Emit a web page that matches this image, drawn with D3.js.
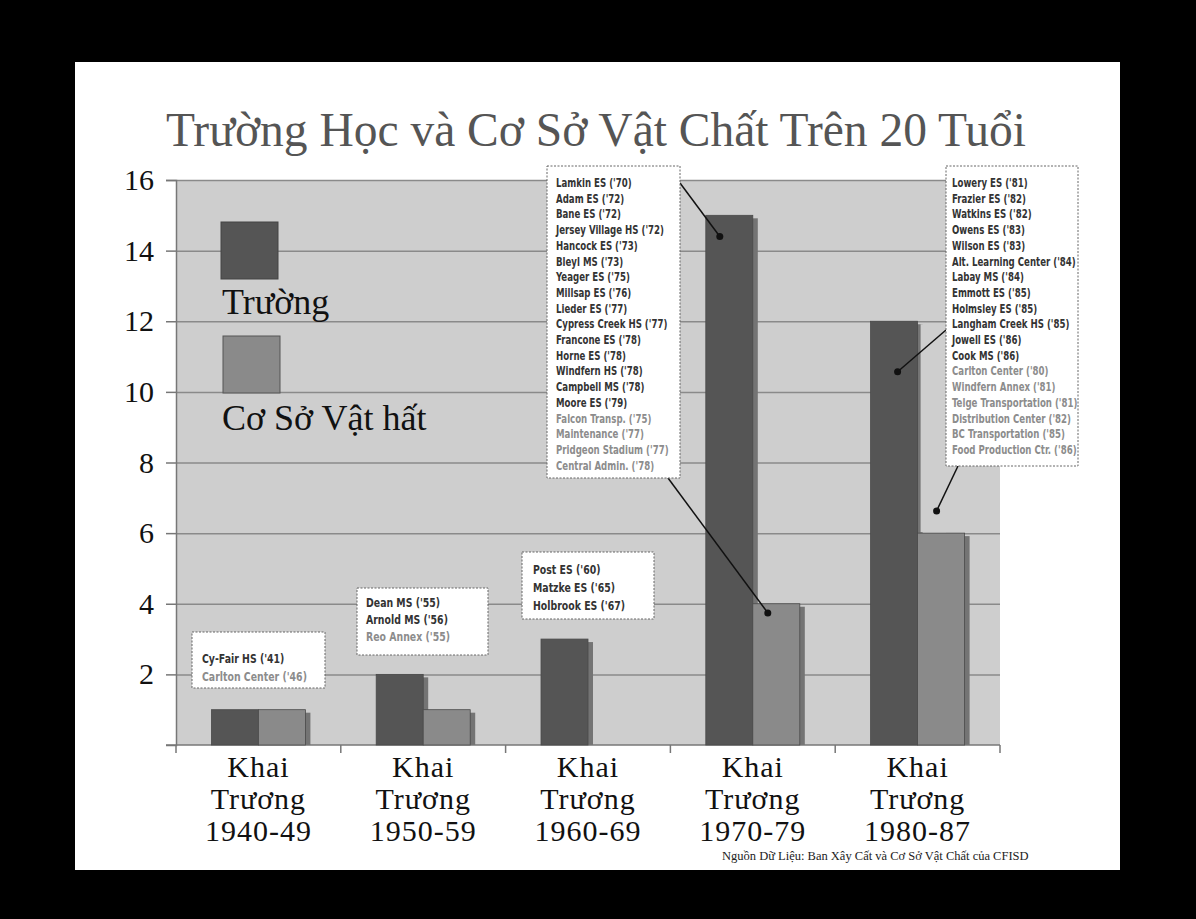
<!DOCTYPE html>
<html><head><meta charset="utf-8">
<script src="https://cdn.jsdelivr.net/npm/d3@7"></script>
<style>html,body{margin:0;padding:0;background:#000;}svg{display:block;}</style>
</head><body>
<script>
// ---------- data ----------
const categories = ["1940-49", "1950-59", "1960-69", "1970-79", "1980-87"];
const schools    = [1, 2, 3, 15, 12];
const facilities = [1, 1, 0, 4, 6];
const yTicks = [2, 4, 6, 8, 10, 12, 14, 16];
const seriesNames = ["Trường", "Cơ Sở Vật hất"];
const xLabelLines = ["Khai", "Trương"];
const titleText = "Trường Học và Cơ Sở Vật Chất Trên 20 Tuổi";
const sourceText = "Nguồn Dữ Liệu: Ban Xây Cất và Cơ Sở Vật Chất của CFISD";
// note lines: [text, kind] kind 0 = school, 1 = facility
const notes1940 = [["Cy-Fair HS ('41)",0],["Carlton Center ('46)",1]];
const notes1950 = [["Dean MS ('55)",0],["Arnold MS ('56)",0],["Reo Annex ('55)",1]];
const notes1960 = [["Post ES ('60)",0],["Matzke ES ('65)",0],["Holbrook ES ('67)",0]];
const notes1970 = [["Lamkin ES ('70)",0],["Adam ES ('72)",0],["Bane ES ('72)",0],["Jersey Village HS ('72)",0],["Hancock ES ('73)",0],["Bleyl MS ('73)",0],["Yeager ES ('75)",0],["Millsap ES ('76)",0],["Lieder ES ('77)",0],["Cypress Creek HS ('77)",0],["Francone ES ('78)",0],["Horne ES ('78)",0],["Windfern HS ('78)",0],["Campbell MS ('78)",0],["Moore ES ('79)",0],["Falcon Transp. ('75)",1],["Maintenance ('77)",1],["Pridgeon Stadium ('77)",1],["Central Admin. ('78)",1]];
const notes1980 = [["Lowery ES ('81)",0],["Frazier ES ('82)",0],["Watkins ES ('82)",0],["Owens ES ('83)",0],["Wilson ES ('83)",0],["Alt. Learning Center ('84)",0],["Labay MS ('84)",0],["Emmott ES ('85)",0],["Holmsley ES ('85)",0],["Langham Creek HS ('85)",0],["Jowell ES ('86)",0],["Cook MS ('86)",0],["Carlton Center ('80)",1],["Windfern Annex ('81)",1],["Telge Transportation ('81)",1],["Distribution Center ('82)",1],["BC Transportation ('85)",1],["Food Production Ctr. ('86)",1]];

// ---------- layout ----------
const W = 1196, H = 919;
const L = 176, R = 1000, T = 180, B = 745;
const serif = "'Liberation Serif','DejaVu Serif',serif";
const sans = "'DejaVu Sans Condensed','DejaVu Sans',sans-serif";
const cDark = "#555555", cLight = "#8a8a8a", cShadow = "#747474", cBg = "#cecece";

const svg = d3.select("body").append("svg").attr("width", W).attr("height", H);
svg.append("rect").attr("width", W).attr("height", H).attr("fill", "#000");
svg.append("rect").attr("x", 75).attr("y", 62).attr("width", 1045).attr("height", 808).attr("fill", "#fff");

const y = d3.scaleLinear().domain([0, 16]).range([B, T]);
const x0 = d3.scaleBand().domain(categories).range([L, R]).padding(0);
const x1 = d3.scaleBand().domain([0, 1]).range([0, x0.bandwidth()]).paddingInner(0).paddingOuter(0.753);

// title
svg.append("text").attr("x", 166).attr("y", 146).attr("font-family", serif)
  .attr("font-size", 47.5).attr("fill", "#555").text(titleText);

// plot background
svg.append("rect").attr("x", L).attr("y", T).attr("width", R - L).attr("height", B - T).attr("fill", cBg);

// grid
const grid = svg.append("g").attr("transform", `translate(${L},0)`)
  .call(d3.axisLeft(y).tickValues(yTicks).tickSize(-(R - L)).tickFormat(""));
grid.select(".domain").remove();
grid.selectAll("line").attr("stroke", "#8a8a8a").attr("stroke-width", 1.5);

// y axis
const yAx = svg.append("g").attr("transform", `translate(${L},0)`)
  .call(d3.axisLeft(y).tickValues(yTicks).tickSize(10).tickPadding(12));
yAx.select(".domain").attr("stroke", "#777").attr("stroke-width", 1.5);
yAx.selectAll("line").attr("stroke", "#777").attr("stroke-width", 1.5);
yAx.selectAll("text").attr("font-family", serif).attr("font-size", 30).attr("fill", "#111");

// x axis baseline + boundary ticks
svg.append("line").attr("x1", L - 10).attr("x2", R).attr("y1", B).attr("y2", B).attr("stroke", "#777").attr("stroke-width", 1.5);
const bounds = categories.map(c => x0(c)).concat([R]);
svg.selectAll(".xt").data(bounds).join("line").attr("x1", d => d).attr("x2", d => d)
  .attr("y1", B).attr("y2", B + 8).attr("stroke", "#777").attr("stroke-width", 1.5);

// bars
const series = [schools, facilities];
const colors = [cDark, cLight];
const bw = x1.bandwidth();
categories.forEach((c, i) => {
  [0, 1].forEach(s => {
    const v = series[s][i];
    if (!v) return;
    const bx = x0(c) + x1(s);
    svg.append("rect").attr("x", bx + 5).attr("y", y(v) + 3).attr("width", bw).attr("height", B - y(v) - 3).attr("fill", cShadow);
    svg.append("rect").attr("x", bx).attr("y", y(v)).attr("width", bw).attr("height", B - y(v))
      .attr("fill", colors[s]).attr("stroke", "#4a4a4a").attr("stroke-width", 0.8);
  });
});
// blank region behind 1980s facility bar (no gridlines)
{
  const c = categories[4];
  const bx = x0(c) + x1(1);
  svg.append("rect").attr("x", bx + 3).attr("y", y(schools[4]) + 3).attr("width", 946 - bx - 3)
    .attr("height", y(facilities[4]) - y(schools[4]) - 4).attr("fill", cBg);
}

// x labels
categories.forEach(c => {
  const cx = x0(c) + x0.bandwidth() / 2;
  const g = svg.append("text").attr("font-family", serif).attr("font-size", 30).attr("fill", "#111")
    .attr("text-anchor", "middle").attr("letter-spacing", 1);
  xLabelLines.concat([c]).forEach((t, k) => {
    g.append("tspan").attr("x", cx).attr("y", 777 + k * 32).text(t);
  });
});

// legend
svg.append("rect").attr("x", 221).attr("y", 222).attr("width", 57).attr("height", 57).attr("fill", cDark).attr("stroke", "#444");
svg.append("text").attr("x", 222).attr("y", 314).attr("font-family", serif).attr("font-size", 36).attr("fill", "#111").text(seriesNames[0]);
svg.append("rect").attr("x", 223).attr("y", 336).attr("width", 57).attr("height", 57).attr("fill", cLight).attr("stroke", "#555");
svg.append("text").attr("x", 222).attr("y", 430).attr("font-family", serif).attr("font-size", 36).attr("fill", "#111").text(seriesNames[1]);

// source
svg.append("text").attr("x", 722).attr("y", 860).attr("font-family", serif).attr("font-size", 12.5).attr("fill", "#222").text(sourceText);

// leader lines & dots
function leader(x1p, y1p, xd, yd) {
  svg.append("line").attr("x1", x1p).attr("y1", y1p).attr("x2", xd).attr("y2", yd).attr("stroke", "#111").attr("stroke-width", 1.5);
  svg.append("circle").attr("cx", xd).attr("cy", yd).attr("r", 3.5).attr("fill", "#111");
}
leader(680, 183, x0(categories[3]) + x1(0) + 14, y(14.4));
leader(668, 478, x0(categories[3]) + x1(1) + 15, y(3.74));
leader(946, 330, x0(categories[4]) + x1(0) + 27, y(10.57));
leader(958, 466, x0(categories[4]) + x1(1) + 19, y(6.63));

// measure compression factor
const probe = svg.append("text").attr("font-family", sans).attr("font-weight", "bold").attr("font-size", 11.5).text("Jersey Village HS ('72)");
const sx = 108 / probe.node().getComputedTextLength();
probe.remove();

function note(bx, by, bwid, bh, tx, firstY, lineH, fs, lines) {
  svg.append("rect").attr("x", bx).attr("y", by).attr("width", bwid).attr("height", bh)
    .attr("fill", "#fff").attr("stroke", "#666").attr("stroke-width", 1).attr("stroke-dasharray", "2,1.5");
  lines.forEach((d, k) => {
    svg.append("text").attr("transform", `translate(${tx},${firstY + k * lineH}) scale(${sx},1)`)
      .attr("font-family", sans).attr("font-weight", "bold").attr("font-size", fs)
      .attr("fill", d[1] ? "#8c8c8c" : "#333").text(d[0]);
  });
}
note(192, 632, 133, 56, 202, 663, 18, 12.5, notes1940);
note(357, 588, 131, 67, 366, 607, 17, 12.5, notes1950);
note(522, 552, 132, 67, 533, 574, 18, 12.5, notes1960);
note(547, 166, 133, 312, 556, 187, 15.7, 11.5, notes1970);
note(946, 166, 132, 300, 952, 187, 15.7, 11.5, notes1980);
</script>
</body></html>
